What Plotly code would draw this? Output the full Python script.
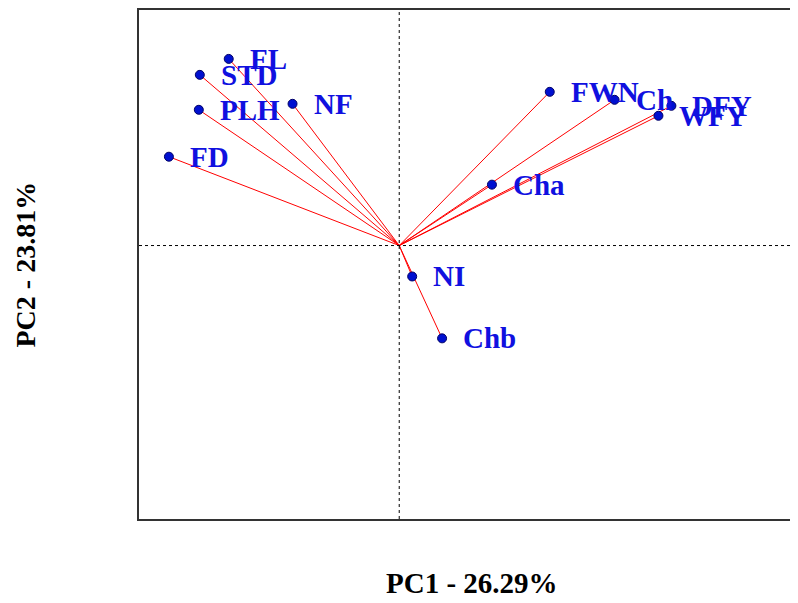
import plotly.graph_objects as go

variables = ["FL", "STD", "PLH", "NF", "FD", "FWN", "Ch", "DFY", "WFY", "Cha", "NI", "Chb"]
pc1 = [-0.342, -0.400, -0.402, -0.214, -0.462, 0.302, 0.432, 0.546, 0.520, 0.186, 0.026, 0.086]
pc2 = [0.374, 0.342, 0.272, 0.284, 0.178, 0.308, 0.292, 0.280, 0.260, 0.122, -0.062, -0.186]

x_title = "PC1 - 26.29%"
y_title = "PC2 - 23.81%"

fig = go.Figure()

# vectors from origin
for v, x, y in zip(variables, pc1, pc2):
    fig.add_trace(go.Scatter(x=[0, x], y=[0, y], mode="lines",
                             line=dict(color="red", width=1), showlegend=False, hoverinfo="skip"))

fig.add_trace(go.Scatter(x=pc1, y=pc2, mode="markers",
                         marker=dict(color="#0010d0", size=9, line=dict(color="#000066", width=1)),
                         showlegend=False, text=variables))

for v, x, y in zip(variables, pc1, pc2):
    fig.add_annotation(x=x, y=y, text="<b>" + v + "</b>", showarrow=False, xanchor="left",
                       yanchor="middle", xshift=19,
                       font=dict(family="Liberation Serif", size=29, color="#1010e0"))

# dotted reference lines
fig.add_shape(type="line", xref="paper", yref="y", x0=0, x1=1, y0=0, y1=0,
              line=dict(color="black", width=1, dash="dot"))
fig.add_shape(type="line", xref="x", yref="paper", x0=0, x1=0, y0=0, y1=1,
              line=dict(color="black", width=1, dash="dot"))

fig.add_annotation(xref="paper", yref="paper", x=0.5, y=0, yshift=-64, text="<b>" + x_title + "</b>",
                   showarrow=False, xanchor="center", yanchor="middle",
                   font=dict(family="Liberation Serif", size=29, color="black"))
fig.add_annotation(xref="paper", yref="paper", x=0, y=0.5, xshift=-114, text="<b>" + y_title + "</b>",
                   showarrow=False, xanchor="center", yanchor="middle", textangle=-90,
                   font=dict(family="Liberation Serif", size=28, color="black"))

fig.update_layout(
    width=798, height=603,
    margin=dict(l=131, r=0, t=1, b=92),
    plot_bgcolor="white", paper_bgcolor="white",
    font=dict(family="Liberation Serif"),
)
fig.update_xaxes(range=[-0.522, 0.812], showgrid=False, zeroline=False, showticklabels=False,
                 ticks="", showline=True, linecolor="#333333", linewidth=1.5, mirror=True)
fig.update_yaxes(range=[-0.548, 0.472], showgrid=False, zeroline=False, showticklabels=False,
                 ticks="", showline=True, linecolor="#333333", linewidth=1.5, mirror=True)

fig.write_html("out.html")
